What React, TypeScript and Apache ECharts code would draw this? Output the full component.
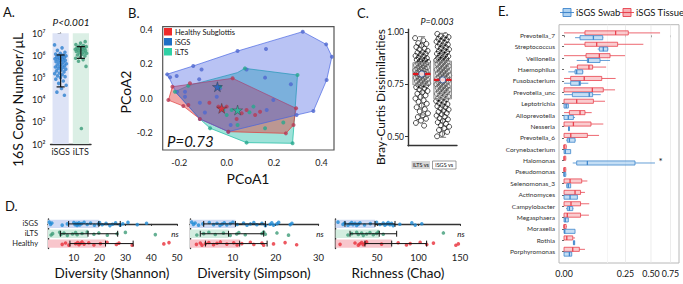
import React, { useEffect, useRef } from 'react';
import * as echarts from 'echarts';

const FONT = 'Lato, "Open Sans", "DejaVu Sans", sans-serif';

// ---------------- Panel A : 16S copy number ----------------
const aCategories = ['iSGS', 'iLTS'];
const aCopiesISGS = [3.0e6, 2.2e6, 1.7e6, 1.4e6, 1.25e6, 1.15e6, 1.05e6, 1.0e6, 9.5e5, 9.0e5, 8.5e5, 8.0e5, 7.5e5, 7.0e5, 6.8e5, 6.5e5, 6.0e5, 5.6e5, 5.2e5, 5.0e5, 4.6e5, 4.2e5, 4.0e5, 3.7e5, 3.4e5, 3.2e5, 3.0e5, 2.8e5, 2.6e5, 2.4e5, 2.2e5, 2.0e5, 1.8e5, 1.6e5, 1.5e5, 1.35e5, 1.2e5, 1.1e5, 1.0e5, 8.5e4, 7.0e4, 5.5e4, 4.5e4, 3.2e4, 2.2e4, 1.6e4];
const aCopiesILTS = [4.2e6, 3.6e6, 3.1e6, 2.8e6, 2.6e6, 2.5e6, 2.4e6, 2.2e6, 2.1e6, 2.0e6, 1.9e6, 1.85e6, 1.75e6, 1.65e6, 1.6e6, 1.5e6, 1.4e6, 1.3e6, 1.25e6, 1.15e6, 1.05e6, 9.5e5, 8.5e5, 7.5e5, 6.5e5, 5.5e5, 3.2e5, 5.0e2];
const aErrorBars = [[3.8e4, 1.05e6], [7.4e5, 2.5e6]];

// ---------------- Panel B : PCoA ----------------
const bXTicks = [-0.2, 0, 0.2, 0.4];
const bYTicks = [-0.2, 0, 0.2, 0.4];
const bHullISGS = [[-0.253, 0.138], [-0.141, 0.187], [0.046, 0.274], [0.321, 0.387], [0.42, 0.313], [0.444, 0.241], [0.422, 0.105], [0.366, -0.076], [0.295, -0.099], [0.007, -0.196], [-0.113, -0.122], [-0.211, 0.027], [-0.242, 0.115]];
const bHullILTS = [[-0.218, 0.037], [-0.162, 0.072], [0.045, 0.148], [0.077, 0.173], [0.299, 0.134], [0.284, -0.157], [0.278, -0.264], [0.084, -0.26], [-0.07, -0.176], [-0.113, -0.122], [-0.19, -0.002]];
const bHullHealthy = [[-0.229, 0.066], [0.025, 0.115], [0.293, -0.06], [0.282, -0.157], [0.25, -0.206], [0.007, -0.196], [-0.113, -0.122], [-0.183, -0.047], [-0.246, -0.012]];
const bPtsISGS = [[-0.251, 0.138], [-0.239, 0.121], [-0.211, 0.129], [-0.141, 0.187], [-0.106, 0.167], [-0.116, 0.109], [0.046, 0.274], [0.166, 0.286], [0.321, 0.387], [0.42, 0.313], [0.444, 0.241], [0.422, 0.105], [0.366, -0.076], [0.295, -0.099], [0.271, 0.08], [0.162, 0.119], [0.084, 0.167], [-0.028, 0.057], [-0.042, 0.008], [-0.176, 0.008], [-0.176, 0.037], [-0.209, 0.037], [-0.113, -0.027], [-0.092, -0.084], [-0.113, -0.122], [0.007, -0.196], [0.017, -0.157], [0.169, -0.07], [0.197, -0.011]];
const bPtsILTS = [[-0.218, 0.037], [-0.162, 0.072], [0.077, 0.173], [0.299, 0.134], [0.278, -0.264], [0.084, -0.26], [-0.07, -0.176], [-0.028, 0.066], [-0.014, -0.07], [0.0, -0.099], [0.046, -0.157], [0.096, -0.083], [0.162, -0.176], [0.239, -0.143], [0.021, -0.07], [0.113, -0.05]];
const bPtsHealthy = [[-0.229, 0.066], [-0.246, -0.012], [-0.183, -0.047], [-0.113, -0.122], [0.007, -0.196], [0.25, -0.206], [0.282, -0.157], [0.293, -0.06], [0.025, 0.115], [-0.155, 0.086], [-0.162, -0.041], [-0.073, -0.027], [-0.035, -0.05], [0.0, -0.05], [0.063, -0.089], [0.084, -0.07], [0.12, -0.099], [0.042, -0.122], [0.141, -0.08]];
const bCentroidISGS = [-0.039, 0.066];
const bCentroidILTS = [0.046, -0.07];
const bCentroidHealthy = [-0.021, -0.06];
const bLegend = ['Healthy Subglottis', 'iSGS', 'iLTS'];

// ---------------- Panel C : Bray-Curtis ----------------
const cGroups = ['iLTS vs', 'iSGS vs'];
const cTicks = [0.5, 0.75, 1.0];
const cILTS = [0.972, 0.961, 0.948, 0.944, 0.936, 0.929, 0.921, 0.918, 0.911, 0.904, 0.902, 0.897, 0.893, 0.887, 0.884, 0.879, 0.876, 0.871, 0.868, 0.866, 0.861, 0.858, 0.853, 0.851, 0.848, 0.846, 0.842, 0.839, 0.836, 0.833, 0.829, 0.827, 0.824, 0.821, 0.818, 0.815, 0.812, 0.809, 0.806, 0.803, 0.801, 0.799, 0.797, 0.794, 0.791, 0.788, 0.785, 0.782, 0.779, 0.776, 0.773, 0.769, 0.766, 0.763, 0.759, 0.756, 0.752, 0.749, 0.745, 0.741, 0.737, 0.731, 0.726, 0.719, 0.713, 0.706, 0.698, 0.691, 0.683, 0.674, 0.667, 0.658, 0.649, 0.641, 0.632, 0.621, 0.612, 0.603, 0.594, 0.586, 0.577, 0.566, 0.553];
const cISGS = [0.992, 0.986, 0.981, 0.977, 0.972, 0.968, 0.963, 0.958, 0.955, 0.949, 0.944, 0.941, 0.936, 0.931, 0.927, 0.922, 0.918, 0.913, 0.909, 0.905, 0.901, 0.897, 0.892, 0.889, 0.885, 0.881, 0.877, 0.873, 0.869, 0.866, 0.862, 0.859, 0.855, 0.852, 0.848, 0.845, 0.841, 0.838, 0.834, 0.831, 0.827, 0.824, 0.821, 0.817, 0.814, 0.811, 0.807, 0.804, 0.801, 0.797, 0.794, 0.791, 0.787, 0.784, 0.781, 0.778, 0.774, 0.771, 0.768, 0.765, 0.761, 0.758, 0.755, 0.751, 0.748, 0.745, 0.741, 0.738, 0.734, 0.731, 0.727, 0.724, 0.72, 0.717, 0.713, 0.709, 0.705, 0.701, 0.697, 0.693, 0.689, 0.684, 0.68, 0.675, 0.671, 0.666, 0.661, 0.656, 0.651, 0.646, 0.641, 0.636, 0.63, 0.625, 0.619, 0.613, 0.607, 0.601, 0.595, 0.589, 0.583, 0.576, 0.569, 0.562, 0.555, 0.548, 0.54, 0.532, 0.523, 0.513, 0.502];
const cBoxILTS = [0.604, 0.748, 0.8, 0.854, 0.979];
const cBoxISGS = [0.497, 0.681, 0.772, 0.862, 0.995];
const cMeans = [0.8, 0.772];

// ---------------- Panel D : alpha diversity ----------------
const dGroups = ['iSGS', 'iLTS', 'Healthy'];
const dShannonISGS = [0.5, 1.0, 1.5, 5.5, 7.5, 10, 10.5, 11, 11.3, 11.6, 12, 12.3, 13, 14, 15.2, 16.5, 18, 19.5, 20, 21, 22.5, 24, 25, 26.2, 28, 29, 31, 34.6, 38.2];
const dShannonILTS = [1.2, 1.8, 4.5, 5.0, 6.2, 7.5, 9.5, 10.7, 11.3, 13.2, 15.2, 17.8, 19.7, 23, 26.8, 30, 41.6];
const dShannonHealthy = [5.5, 6.8, 8.1, 10.7, 11.5, 12, 12.6, 13.2, 14, 15.8, 17.8, 20.3, 22.9, 26.5, 27.5, 32.6, 44.9, 46.9];
const dShannonMeans = [19.7, 15.5, 22.3];
const dShannonErr = [[8, 28], [4.8, 27], [8.5, 33]];
const dSimpsonISGS = [0.4, 0.8, 1.2, 2, 3, 4.5, 5.5, 6.3, 7, 7.5, 8, 8.6, 9.4, 10, 11, 12.5, 13.3, 14.1, 14.9, 15.6, 16.8, 17.6, 18.7, 19.1, 19.5, 20.3, 20.7, 23.4, 23.8];
const dSimpsonILTS = [1.6, 3.2, 4.4, 5.9, 7.8, 9.4, 10.9, 11.4, 12.9, 16.8, 17.2, 17.6, 20.3, 23];
const dSimpsonHealthy = [1.5, 2.4, 2.8, 3.6, 4.4, 5.5, 6.3, 7.1, 8.6, 10.2, 11, 12.1, 14.1, 14.9, 16.8, 17.2, 19.5, 22.2, 24.9];
const dSimpsonMeans = [10.6, 9.0, 11.6];
const dSimpsonErr = [[3.2, 17.6], [2.4, 17.2], [3.6, 18]];
const dChaoISGS = [3, 9, 11, 15, 17.5, 19.5, 21, 23.5, 25.5, 27.5, 29.5, 35, 42, 49.5, 53.5, 57.5, 59.5, 61.5, 63.5, 65.5, 67.5, 69.5, 77.5, 92, 96, 104];
const dChaoILTS = [15, 19.5, 25.5, 27.5, 31.5, 33.5, 37.5, 41.5, 45.5, 49.5, 51.5, 57.5, 130];
const dChaoHealthy = [5.5, 23.5, 27.5, 29.5, 31.5, 33.5, 35.5, 37.5, 55.5, 75.5, 85.5, 90, 102, 110, 118, 145, 148];
const dChaoMeans = [47.6, 52.7, 67.7];
const dChaoErr = [[11.4, 71.7], [17.5, 73.7], [35.5, 109.8]];
const dTitles = ['Diversity (Shannon)', 'Diversity (Simpson)', 'Richness (Chao)'];

// ---------------- Panel E : taxa boxplots (sqrt scale) ----------------
const eTaxa = ['Prevotella_7', 'Streptococcus', 'Veillonella', 'Haemophilus', 'Fusobacterium', 'Prevotella_unc', 'Leptotrichia', 'Alloprevotella', 'Nesseria', 'Prevotella_6', 'Corynebacterium', 'Halomonas', 'Pseudomonas', 'Selenomonas_3', 'Actinomyces', 'Campylobacter', 'Megasphaera', 'Moraxella', 'Rothia', 'Porphyromonas'];
// [low whisker, q1, median, q3, high whisker]
const eTissue = [
  [0, 0.029, 0.176, 0.273, 0.61],
  [0, 0.029, 0.0705, 0.19, 0.416],
  [0, 0.032, 0.0825, 0.14, 0.246],
  [0.0024, 0.0118, 0.041, 0.054, 0.117],
  [0, 0.0029, 0.027, 0.094, 0.176],
  [0, 0, 0.053, 0.102, 0.172],
  [0, 0, 0.0106, 0.057, 0.111],
  [0, 0.0019, 0.0169, 0.029, 0.0506],
  [0, 0, 0.0058, 0.048, 0.102],
  [0, 0, 0.003, 0.036, 0.081],
  [0, 0, 0, 0.0003, 0.0005],
  [0, 0, 0, 0.0002, 0.0003],
  [0, 0, 0, 0.0002, 0.0003],
  [0, 0, 0.0024, 0.0206, 0.036],
  [0, 0, 0.008, 0.018, 0.029],
  [0, 0, 0.0032, 0.018, 0.042],
  [0, 0, 0.0007, 0.018, 0.041],
  [0, 0, 0, 0.0003, 0.0005],
  [0, 0, 0.0005, 0.005, 0.008],
  [0, 0, 0.005, 0.0155, 0.029],
];
const eSwab = [
  [0.008, 0.0169, 0.057, 0.099, 0.102],
  [0.075, 0.0825, 0.102, 0.126, 0.13],
  [0.0106, 0.036, 0.039, 0.0857, 0.14],
  [0.0012, 0.008, 0.0106, 0.023, 0.0247],
  [0, 0.0029, 0.0155, 0.018, 0.039],
  [0, 0.0046, 0.042, 0.054, 0.089],
  [0, 0, 0.0003, 0.0012, 0.0015],
  [0, 0, 0.0012, 0.0058, 0.008],
  [0.0012, 0.0014, 0.0016, 0.0018, 0.002],
  [0.0003, 0.0007, 0.0019, 0.008, 0.009],
  [0, 0, 0.0001, 0.0029, 0.003],
  [0.005, 0.0106, 0.036, 0.333, 0.547],
  [0, 0, 0, 0.0002, 0.0003],
  [0.0003, 0.0005, 0.0012, 0.0029, 0.003],
  [0, 0, 0.0024, 0.0118, 0.012],
  [0.0003, 0.0007, 0.0019, 0.005, 0.0058],
  [0, 0, 0.0001, 0.0012, 0.0013],
  [0, 0, 0.00003, 0.008, 0.008],
  [0.0058, 0.0058, 0.0065, 0.0075, 0.0075],
  [0, 0, 0.0019, 0.0039, 0.004],
];
const eXTicks = [0, 0.25, 0.5, 0.75];
const eGridLines = [0.125, 0.25, 0.5, 0.75];
const eLegend = ['iSGS Swab', 'iSGS Tissue'];

// ---------------- helpers ----------------
type C = (p: number[]) => number[];
const rect = (c: C, x0: number, y0: number, x1: number, y1: number, style: any) => {
  const p = c([x0, y0]);
  const q = c([x1, y1]);
  return { type: 'rect', shape: { x: Math.min(p[0], q[0]), y: Math.min(p[1], q[1]), width: Math.abs(q[0] - p[0]), height: Math.abs(q[1] - p[1]) }, style };
};
const seg = (c: C, x0: number, y0: number, x1: number, y1: number, style: any) => {
  const p = c([x0, y0]);
  const q = c([x1, y1]);
  return { type: 'line', shape: { x1: p[0], y1: p[1], x2: q[0], y2: q[1] }, style };
};
const poly = (c: C, pts: number[][], style: any) => ({ type: 'polygon', shape: { points: pts.map((p) => c(p)) }, style });

function shapeSeries(xi: number, yi: number, anchor: number[], build: (c: C) => any[], z = 2) {
  return {
    type: 'custom', xAxisIndex: xi, yAxisIndex: yi, z, silent: true, clip: false,
    data: [anchor],
    renderItem: (_p: any, api: any) => ({ type: 'group', children: build((p) => api.coord(p)) }),
  };
}

const supers: Record<number, string> = { 2: '²', 3: '³', 4: '⁴', 5: '⁵', 6: '⁶', 7: '⁷' };
// deterministic spread (layout only): low-discrepancy offsets in [-0.5, 0.5)
const spread = (i: number) => ((i * 0.6180339887) % 1) - 0.5;
const jitA = (i: number) => spread(i) * 0.6;
const jitC = (i: number) => spread(i) * 0.27;
const jitD = (i: number) => spread(i) * 0.36;

const darkLine = { show: true, lineStyle: { color: '#333', width: 1.4 } };

const txt = (x: number, y: number, text: string, fontSize: number, extra: any = {}, elExtra: any = {}) => ({
  type: 'text', x, y, ...elExtra,
  style: { text, fontSize, fontFamily: FONT, fill: '#111', align: 'center', verticalAlign: 'middle', ...extra },
});

function buildOption() {
  const series: any[] = [];

  // ---------- A ----------
  series.push(shapeSeries(0, 0, [0, 1000], (c) => [
    rect(c, -0.4, 100, 0.4, 1e7, { fill: '#dde3f6' }),
    rect(c, 0.6, 100, 1.4, 1e7, { fill: '#dbefe5' }),
  ], 1));
  series.push({ type: 'scatter', xAxisIndex: 0, yAxisIndex: 0, z: 3, symbolSize: 3.6, itemStyle: { color: '#2d7fcf' }, data: aCopiesISGS.map((v, i) => [0 + jitA(i), v]) });
  series.push({ type: 'scatter', xAxisIndex: 0, yAxisIndex: 0, z: 3, symbolSize: 3.6, itemStyle: { color: '#3b9b78' }, data: aCopiesILTS.map((v, i) => [1 + jitA(i + 3), v]) });
  series.push(shapeSeries(0, 0, [0, 1000], (c) => {
    const out: any[] = [];
    aErrorBars.forEach(([lo, hi], g) => {
      const st = { stroke: '#111', lineWidth: 1.2 };
      out.push(seg(c, g, lo, g, hi, st));
      out.push(seg(c, g - 0.2, lo, g + 0.2, lo, st));
      out.push(seg(c, g - 0.2, hi, g + 0.2, hi, st));
    });
    return out;
  }, 4));

  // ---------- B ----------
  series.push(shapeSeries(1, 1, [0, 0], (c) => [
    poly(c, bHullILTS, { fill: 'rgba(40,190,170,0.45)', stroke: 'rgba(35,190,165,0.95)', lineWidth: 0.8 }),
    poly(c, bHullHealthy, { fill: 'rgba(225,60,60,0.45)', stroke: 'rgba(225,60,60,0.9)', lineWidth: 0.8 }),
    poly(c, bHullISGS, { fill: 'rgba(60,90,225,0.36)', stroke: 'rgba(70,100,225,0.85)', lineWidth: 0.8 }),
  ], 1));
  series.push({ type: 'scatter', xAxisIndex: 1, yAxisIndex: 1, z: 3, symbolSize: 4, itemStyle: { color: '#4f68cf' }, data: bPtsISGS });
  series.push({ type: 'scatter', xAxisIndex: 1, yAxisIndex: 1, z: 3, symbolSize: 4, itemStyle: { color: '#27a88d' }, data: bPtsILTS });
  series.push({ type: 'scatter', xAxisIndex: 1, yAxisIndex: 1, z: 3, symbolSize: 4, itemStyle: { color: '#b83a55' }, data: bPtsHealthy });
  const star = 'path://M50 0 L61 35 L98 35 L68 57 L79 91 L50 70 L21 91 L32 57 L2 35 L39 35 Z';
  series.push({ type: 'scatter', xAxisIndex: 1, yAxisIndex: 1, z: 5, symbol: star, symbolSize: 10, itemStyle: { color: '#1f5fc0', borderColor: '#333', borderWidth: 0.5 }, data: [bCentroidISGS] });
  series.push({ type: 'scatter', xAxisIndex: 1, yAxisIndex: 1, z: 5, symbol: star, symbolSize: 10, itemStyle: { color: '#1fbf9a', borderColor: '#333', borderWidth: 0.5 }, data: [bCentroidILTS] });
  series.push({ type: 'scatter', xAxisIndex: 1, yAxisIndex: 1, z: 5, symbol: star, symbolSize: 10, itemStyle: { color: '#e8202c', borderColor: '#333', borderWidth: 0.5 }, data: [bCentroidHealthy] });

  // ---------- C ----------
  const cCenters = [0.28, 0.708];
  const cOpen = { color: 'rgba(0,0,0,0)', borderColor: '#000', borderWidth: 0.85 };
  series.push({ type: 'scatter', xAxisIndex: 2, yAxisIndex: 2, z: 2, symbolSize: 5, itemStyle: cOpen, data: cILTS.map((v, i) => [cCenters[0] + jitC(i), v]) });
  series.push({ type: 'scatter', xAxisIndex: 2, yAxisIndex: 2, z: 2, symbolSize: 5, itemStyle: cOpen, data: cISGS.map((v, i) => [cCenters[1] + jitC(i + 5), v]) });
  series.push(shapeSeries(2, 2, [0, 0.75], (c) => {
    const out: any[] = [];
    [cBoxILTS, cBoxISGS].forEach((b, g) => {
      const x = cCenters[g];
      const hw = 0.18;
      const st = { stroke: '#777', lineWidth: 0.9 };
      out.push(seg(c, x, b[0], x, b[1], st));
      out.push(seg(c, x, b[3], x, b[4], st));
      out.push(seg(c, x - 0.07, b[0], x + 0.07, b[0], st));
      out.push(seg(c, x - 0.07, b[4], x + 0.07, b[4], st));
      out.push(rect(c, x - hw, b[1], x + hw, b[3], { fill: 'rgba(190,190,190,0.4)', stroke: '#888', lineWidth: 0.9 }));
      out.push(seg(c, x - hw, b[2], x + hw, b[2], { stroke: '#e3141c', lineWidth: 2.2 }));
    });
    return out;
  }, 3));
  series.push({ type: 'scatter', xAxisIndex: 2, yAxisIndex: 2, z: 5, symbolSize: 6, itemStyle: { color: '#fff', borderColor: '#2a4f9a', borderWidth: 1 }, data: cMeans.map((m, g) => [cCenters[g], m]) });

  // ---------- D ----------
  const dBand = ['#d0daf4', '#d3ede0', '#f8c6cc'];
  const dPt = ['#1f8bd6', '#3f9c78', '#e8303a'];
  const dSets = [
    { pts: [dShannonISGS, dShannonILTS, dShannonHealthy], means: dShannonMeans, err: dShannonErr },
    { pts: [dSimpsonISGS, dSimpsonILTS, dSimpsonHealthy], means: dSimpsonMeans, err: dSimpsonErr },
    { pts: [dChaoISGS, dChaoILTS, dChaoHealthy], means: dChaoMeans, err: dChaoErr },
  ];
  dSets.forEach((s, k) => {
    const xi = 3 + k;
    series.push(shapeSeries(xi, xi, [0, 0], (c) => s.means.map((m, g) => rect(c, 0, g - 0.42, m, g + 0.42, { fill: dBand[g] })), 1));
    s.pts.forEach((arr, g) => {
      series.push({ type: 'scatter', xAxisIndex: xi, yAxisIndex: xi, z: 3, symbolSize: 3.6, itemStyle: { color: dPt[g] }, data: arr.map((v, i) => [v, g + jitD(i + g * 3)]) });
    });
    series.push(shapeSeries(xi, xi, [0, 0], (c) => {
      const out: any[] = [];
      s.err.forEach(([lo, hi], g) => {
        const st = { stroke: '#111', lineWidth: 1 };
        out.push(seg(c, lo, g, hi, g, st));
        out.push(seg(c, lo, g - 0.3, lo, g + 0.3, st));
        out.push(seg(c, hi, g - 0.3, hi, g + 0.3, st));
        out.push(seg(c, s.means[g], g - 0.3, s.means[g], g + 0.3, st));
      });
      return out;
    }, 4));
  });

  // ---------- E ----------
  const eRows = eTaxa.map((_, i) => i);
  series.push(shapeSeries(6, 6, [0, 0], (c) => eGridLines.map((v, i) => seg(c, Math.sqrt(v), -0.93, Math.sqrt(v), 19.99, { stroke: i === 0 ? '#f3f3f3' : '#e6e6e6', lineWidth: 0.8 })), 1));
  const boxH = (c: C, st: number[], yc: number, col: string, fill: string) => {
    const s = st.map((v) => Math.sqrt(v));
    const h = 0.18;
    return [
      seg(c, s[0], yc, s[1], yc, { stroke: col, lineWidth: 0.8 }),
      seg(c, s[3], yc, s[4], yc, { stroke: col, lineWidth: 0.8 }),
      rect(c, s[1], yc - h, s[3], yc + h, { fill, stroke: col, lineWidth: 0.8 }),
      seg(c, s[2], yc - h, s[2], yc + h, { stroke: col, lineWidth: 1.3 }),
    ];
  };
  series.push(shapeSeries(6, 6, [0, 0], (c) => {
    const out: any[] = [];
    eTaxa.forEach((_, i) => {
      out.push(...boxH(c, eTissue[i], i - 0.21, '#e8414d', 'rgba(246,170,175,0.6)'));
      out.push(...boxH(c, eSwab[i], i + 0.21, '#3f86cc', 'rgba(165,205,240,0.65)'));
    });
    return out;
  }, 3));

  const dX = (gi: number, max: number, interval: number) => ({
    gridIndex: gi, type: 'value', min: 0, max, interval,
    axisLine: darkLine, axisTick: { show: true, length: 2, lineStyle: { color: '#333' } },
    axisLabel: { showMinLabel: false, fontSize: 9.5, color: '#222', margin: 4 }, splitLine: { show: false },
  });
  const dY = (gi: number, labels: boolean) => ({
    gridIndex: gi, type: 'value', min: -0.5, max: 2.5, inverse: true,
    axisLine: darkLine, axisTick: { show: false }, splitLine: { show: false },
    axisLabel: labels ? { customValues: [0, 1, 2], formatter: (v: number) => dGroups[Math.round(v)], fontSize: 7.5, color: '#222', margin: 10 } : { show: false },
  });

  const graphic: any[] = [
    txt(3, 12, 'A.', 13, { align: 'left' }),
    txt(71, 22, 'P<0.001', 10, { fontStyle: 'italic' }),
    txt(17, 100, '16S Copy Number/μL', 14, {}, { rotation: Math.PI / 2 }),
    txt(128, 13, 'B.', 13, { align: 'left' }),
    txt(125, 92, 'PCoA2', 14, {}, { rotation: Math.PI / 2 }),
    txt(248, 178, 'PCoA1', 14),
    { type: 'rect', shape: { x: 164, y: 28, width: 8, height: 7.5 }, style: { fill: '#ee2a2a' } },
    { type: 'rect', shape: { x: 164, y: 38, width: 8, height: 7.5 }, style: { fill: '#1f6fc5' } },
    { type: 'rect', shape: { x: 164, y: 48, width: 8, height: 7.5 }, style: { fill: '#2fd0a5' } },
    txt(175, 32, bLegend[0], 7.5, { align: 'left' }),
    txt(175, 42, bLegend[1], 7.5, { align: 'left' }),
    txt(175, 52, bLegend[2], 7.5, { align: 'left' }),
    txt(167, 141, 'P=0.73', 15, { align: 'left', fontStyle: 'italic' }),
    txt(357, 13, 'C.', 13, { align: 'left' }),
    txt(437, 21, 'P=0.003', 9, { fontStyle: 'italic' }),
    txt(380, 97, 'Bray-Curtis Dissimilarities', 12, {}, { rotation: Math.PI / 2 }),
    { type: 'rect', shape: { x: 411.5, y: 161, width: 18.5, height: 8 }, style: { fill: '#d6d6d6' } },
    { type: 'rect', shape: { x: 432.5, y: 161, width: 23.5, height: 8 }, style: { fill: '#fff', stroke: '#777', lineWidth: 0.7 } },
    txt(420.8, 165, cGroups[0], 5.5),
    txt(444.2, 165, cGroups[1], 5.5),
    txt(5, 206, 'D.', 13, { align: 'left' }),
    txt(112, 273, dTitles[0], 13.5),
    txt(254, 273, dTitles[1], 13.5),
    txt(398, 273, dTitles[2], 13.5),
    txt(175, 234, 'ns', 8, { fontStyle: 'italic' }),
    txt(320, 234, 'ns', 8, { fontStyle: 'italic' }),
    txt(461, 234, 'ns', 8, { fontStyle: 'italic' }),
    txt(498, 11, 'E.', 13, { align: 'left' }),
    // legend E
    { type: 'line', shape: { x1: 560, y1: 12.5, x2: 574, y2: 12.5 }, style: { stroke: '#3f86cc', lineWidth: 0.9 } },
    { type: 'rect', shape: { x: 563, y: 8.5, width: 8, height: 8 }, style: { fill: 'rgba(165,205,240,0.9)', stroke: '#3f86cc', lineWidth: 0.9 } },
    { type: 'line', shape: { x1: 563, y1: 12.5, x2: 571, y2: 12.5 }, style: { stroke: '#3f86cc', lineWidth: 1.1 } },
    txt(576, 12.5, eLegend[0], 9.5, { align: 'left' }),
    { type: 'line', shape: { x1: 620, y1: 12.5, x2: 634, y2: 12.5 }, style: { stroke: '#e8414d', lineWidth: 0.9 } },
    { type: 'rect', shape: { x: 623, y: 8.5, width: 8, height: 8 }, style: { fill: 'rgba(246,170,175,0.9)', stroke: '#e8414d', lineWidth: 0.9 } },
    { type: 'line', shape: { x1: 623, y1: 12.5, x2: 631, y2: 12.5 }, style: { stroke: '#e8414d', lineWidth: 1.1 } },
    txt(636, 12.5, eLegend[1], 9.5, { align: 'left' }),
    txt(660.7, 161, '*', 10),
  ];

  return {
    animation: false,
    backgroundColor: '#ffffff',
    textStyle: { fontFamily: FONT },
    grid: [
      { left: 50.5, top: 33.3, width: 40.5, height: 110.7 },
      { left: 162.7, top: 26.7, width: 171.3, height: 123.3, show: true, borderColor: '#555', borderWidth: 1.2 },
      { left: 408, top: 29.3, width: 49, height: 116.4 },
      { left: 48, top: 219, width: 129, height: 29.5 },
      { left: 190, top: 219, width: 128.5, height: 29.5 },
      { left: 335.5, top: 219, width: 124.5, height: 29.5 },
      { left: 559, top: 24.7, width: 120, height: 238.3, show: true, borderColor: '#b8b8b8', borderWidth: 1 },
    ],
    xAxis: [
      { gridIndex: 0, type: 'value', min: -0.5, max: 1.5, axisLine: darkLine, axisTick: { show: false }, splitLine: { show: false }, axisLabel: { customValues: [0, 1], formatter: (v: number) => aCategories[Math.round(v)], fontSize: 9, color: '#222', margin: 3, hideOverlap: false } },
      { gridIndex: 1, type: 'value', min: -0.27, max: 0.453, axisLine: { show: false }, axisTick: { show: false }, splitLine: { show: false }, axisLabel: { customValues: bXTicks, formatter: (v: number) => v.toFixed(1), fontSize: 9, color: '#222', margin: 8 } },
      { gridIndex: 2, type: 'value', min: 0, max: 1, axisLine: darkLine, axisTick: { show: false }, splitLine: { show: false }, axisLabel: { show: false } },
      dX(3, 50, 10),
      dX(4, 30, 10),
      dX(5, 150, 50),
      { gridIndex: 6, type: 'value', min: -0.041, max: 0.935, axisLine: { show: false }, axisTick: { show: true, customValues: eXTicks.map(Math.sqrt), length: 2, lineStyle: { color: '#777' } }, splitLine: { show: false }, axisLabel: { customValues: eXTicks.map(Math.sqrt), formatter: (v: number) => (v * v).toFixed(2), fontSize: 8.8, color: '#111', margin: 6, hideOverlap: false } },
    ],
    yAxis: [
      { gridIndex: 0, type: 'log', logBase: 10, min: 100, max: 1e7, axisLine: darkLine, axisTick: { show: true, length: 3, lineStyle: { color: '#333' } }, splitLine: { show: false }, axisLabel: { formatter: (v: number) => '10' + (supers[Math.round(Math.log10(v))] || ''), fontSize: 9, color: '#222', margin: 5 } },
      { gridIndex: 1, type: 'value', min: -0.303, max: 0.416, axisLine: { show: false }, axisTick: { show: false }, splitLine: { show: false }, axisLabel: { customValues: bYTicks, formatter: (v: number) => v.toFixed(1), fontSize: 9, color: '#222', margin: 10 } },
      { gridIndex: 2, type: 'value', min: 0.457, max: 1.014, axisLine: darkLine, axisTick: { show: true, customValues: cTicks, length: 3, lineStyle: { color: '#333' } }, splitLine: { show: false }, axisLabel: { customValues: cTicks, formatter: (v: number) => v.toFixed(2), fontSize: 8.5, color: '#222', margin: 4 } },
      dY(3, true),
      dY(4, false),
      dY(5, false),
      { gridIndex: 6, type: 'value', min: -0.93, max: 19.99, inverse: true, axisLine: { show: false }, axisTick: { show: true, customValues: eRows, length: 2, lineStyle: { color: '#666' } }, splitLine: { show: false }, axisLabel: { customValues: eRows, formatter: (v: number) => eTaxa[Math.round(v)], fontSize: 6.5, color: '#333', margin: 4 } },
    ],
    series,
    graphic,
  };
}

export default function App() {
  const ref = useRef<HTMLDivElement>(null);
  useEffect(() => {
    const chart = echarts.init(ref.current as HTMLDivElement, null, { renderer: 'svg' });
    chart.setOption(buildOption() as any);
    return () => chart.dispose();
  }, []);
  return <div ref={ref} style={{ position: 'fixed', left: 0, top: 0, width: 683, height: 284, background: '#fff' }} />;
}
